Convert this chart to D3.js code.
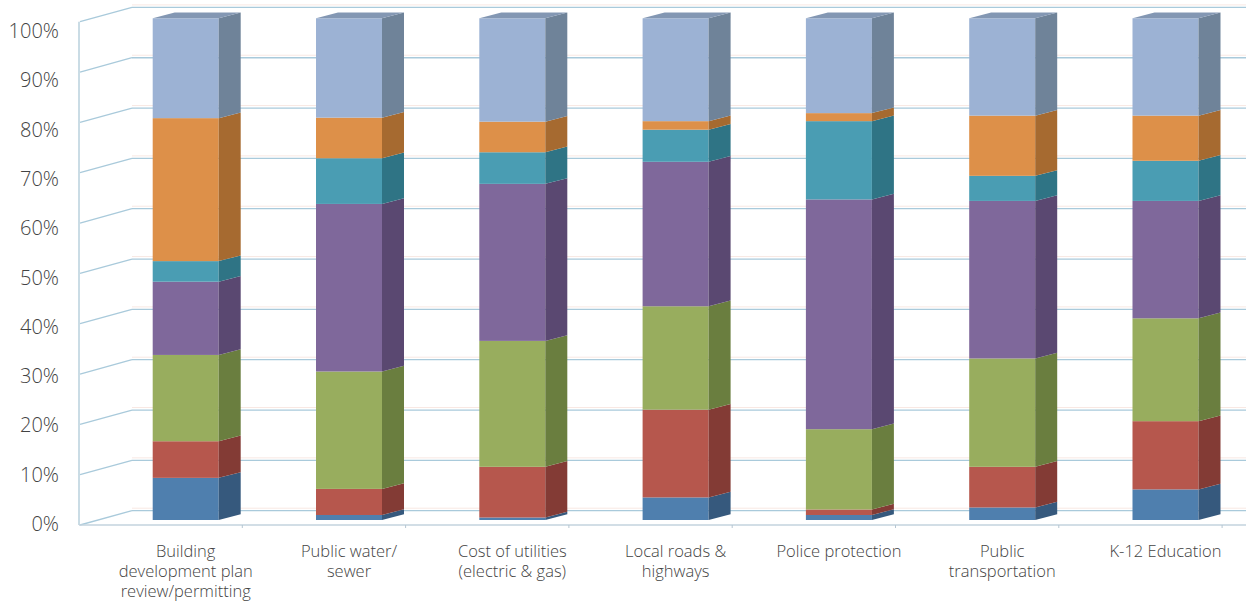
<!DOCTYPE html>
<html>
<head>
<meta charset="utf-8">
<script src="https://cdn.jsdelivr.net/npm/d3@7"></script>
<style>
  html, body { margin: 0; padding: 0; background: #ffffff; }
  svg { display: block; }
  text { font-family: "Open Sans", "Noto Sans", sans-serif; fill: #434343; font-weight: 300; }
</style>
</head>
<body>
<svg id="chart" width="1246" height="604"></svg>
<script>
// Categories along the floor (multi-line labels split on "\n")
const categories = [
  "Building\ndevelopment plan\nreview/permitting",
  "Public water/\nsewer",
  "Cost of utilities\n(electric & gas)",
  "Local roads &\nhighways",
  "Police protection",
  "Public\ntransportation",
  "K-12 Education"
];

// Stack segments, bottom to top (percent of each column)
const seriesBlue      = [8.4, 1.0, 0.5, 4.5, 1.0, 2.5, 6.1];
const seriesRed       = [7.3, 5.2, 10.1, 17.5, 1.1, 8.1, 13.6];
const seriesGreen     = [17.2, 23.4, 25.1, 20.6, 16.0, 21.6, 20.5];
const seriesPurple    = [14.6, 33.4, 31.3, 28.8, 45.8, 31.4, 23.4];
const seriesTeal      = [4.1, 9.1, 6.3, 6.4, 15.6, 5.0, 8.0];
const seriesOrange    = [28.5, 8.1, 6.1, 1.7, 1.6, 12.0, 9.0];
const seriesLightBlue = [19.9, 19.8, 20.6, 20.5, 18.9, 19.4, 19.4];

const tickValues = [0, 10, 20, 30, 40, 50, 60, 70, 80, 90, 100];
const tickLabels = ["0%", "10%", "20%", "30%", "40%", "50%", "60%", "70%", "80%", "90%", "100%"];

const seriesList = [seriesBlue, seriesRed, seriesGreen, seriesPurple, seriesTeal, seriesOrange, seriesLightBlue];
const faceColors = [
  { front: "#4f7fae", side: "#36597d", top: "#6a93bd" },
  { front: "#b6574d", side: "#833b35", top: "#c7766d" },
  { front: "#98ad5e", side: "#6a7e3f", top: "#aabd76" },
  { front: "#7f689b", side: "#5a4871", top: "#9580ad" },
  { front: "#4a9db3", side: "#2f7485", top: "#69b2c4" },
  { front: "#dd9049", side: "#a66a30", top: "#e5a569" },
  { front: "#9cb2d4", side: "#6f8399", top: "#8397b3" }
];

const svg = d3.select("#chart");

// Projection of the 3-D box: front plane, back wall and depth offset
const depthX = 53, depthY = -14.3;
const axisX = 79;
const yFront = d3.scaleLinear().domain([0, 100]).range([525, 21.7]);
const yBack = v => yFront(v) + depthY;
const yLabel = d3.scaleLinear().domain([0, 100]).range([524, 31]);
const yBar = d3.scaleLinear().domain([0, 100]).range([520, 18.3]);

const x = d3.scaleBand().domain(categories).range([axisX, axisX + 7 * 163.3]).padding(0);
const barOffset = 73.7, barWidth = 66, barDX = 22, barDY = -5.7;

const gridColor = "#a9cadb";
const ghostColor = "#f8e8e3";

// Back wall horizontal gridlines and left wall diagonals
const grid = svg.append("g");
tickValues.forEach(v => {
  grid.append("line")
    .attr("x1", axisX + depthX).attr("x2", 1246)
    .attr("y1", yBack(v) - 2.5).attr("y2", yBack(v) - 2.5)
    .attr("stroke", ghostColor).attr("stroke-width", 1);
  grid.append("line")
    .attr("x1", axisX + depthX).attr("x2", 1246)
    .attr("y1", yBack(v)).attr("y2", yBack(v))
    .attr("stroke", gridColor).attr("stroke-width", 1.3);
  grid.append("line")
    .attr("x1", axisX + 1).attr("x2", axisX + depthX)
    .attr("y1", yFront(v)).attr("y2", yBack(v))
    .attr("stroke", gridColor).attr("stroke-width", 1.3);
});

// Front vertical axis and floor front edge
svg.append("line")
  .attr("x1", axisX).attr("x2", axisX)
  .attr("y1", yFront(100)).attr("y2", yFront(0))
  .attr("stroke", "#b9d0dc").attr("stroke-width", 1.5);
svg.append("line")
  .attr("x1", axisX).attr("x2", 1246)
  .attr("y1", yFront(0)).attr("y2", yFront(0))
  .attr("stroke", "#c3d3de").attr("stroke-width", 1.3);
categories.forEach((c, i) => {
  if (i === 0) return;
  svg.append("line")
    .attr("x1", x(c)).attr("x2", x(c))
    .attr("y1", yFront(0)).attr("y2", yFront(0) + 3)
    .attr("stroke", "#b5c6d2").attr("stroke-width", 1);
});
svg.append("line")
  .attr("x1", x(categories[6]) + x.bandwidth()).attr("x2", x(categories[6]) + x.bandwidth())
  .attr("y1", yFront(0)).attr("y2", yFront(0) + 3)
  .attr("stroke", "#b5c6d2").attr("stroke-width", 1);

// Y tick labels
svg.append("g").selectAll("text")
  .data(tickValues)
  .join("text")
  .attr("x", 59)
  .attr("y", v => yLabel(v))
  .attr("dy", "0.35em")
  .attr("text-anchor", "end")
  .attr("font-size", 20)
  .text((v, i) => tickLabels[i]);

// Stacked 3-D columns
const stackRows = categories.map((c, i) => {
  const row = { cat: c };
  seriesList.forEach((s, k) => { row["k" + k] = s[i]; });
  return row;
});
const stack = d3.stack().keys(seriesList.map((s, k) => "k" + k));
const layers = stack(stackRows);

const bars = svg.append("g");
categories.forEach((c, i) => {
  const x0 = x(c) + barOffset;
  const x1 = x0 + barWidth;
  const g = bars.append("g");
  layers.forEach((layer, k) => {
    const [v0, v1] = layer[i];
    if (v1 - v0 <= 0) return;
    const col = faceColors[k];
    // front face
    g.append("rect")
      .attr("x", x0).attr("y", yBar(v1))
      .attr("width", barWidth).attr("height", yBar(v0) - yBar(v1))
      .attr("fill", col.front);
    // right side face
    g.append("path")
      .attr("d", d3.line()([
        [x1, yBar(v0)], [x1 + barDX, yBar(v0) + barDY],
        [x1 + barDX, yBar(v1) + barDY], [x1, yBar(v1)]
      ]) + "Z")
      .attr("fill", col.side);
    // top face on the uppermost segment
    if (k === layers.length - 1) {
      g.append("path")
        .attr("d", d3.line()([
          [x0, yBar(v1)], [x1, yBar(v1)],
          [x1 + barDX, yBar(v1) + barDY], [x0 + barDX, yBar(v1) + barDY]
        ]) + "Z")
        .attr("fill", col.top);
    }
  });
});

// Category labels under the floor
const catLabels = svg.append("g");
categories.forEach(c => {
  const cx = x(c) + barOffset + barWidth / 2;
  const lines = c.split("\n");
  const t = catLabels.append("text")
    .attr("text-anchor", "middle")
    .attr("font-size", 16.5);
  lines.forEach((ln, j) => {
    t.append("tspan")
      .attr("x", cx)
      .attr("y", 557 + j * 20)
      .text(ln);
  });
});
</script>
</body>
</html>
